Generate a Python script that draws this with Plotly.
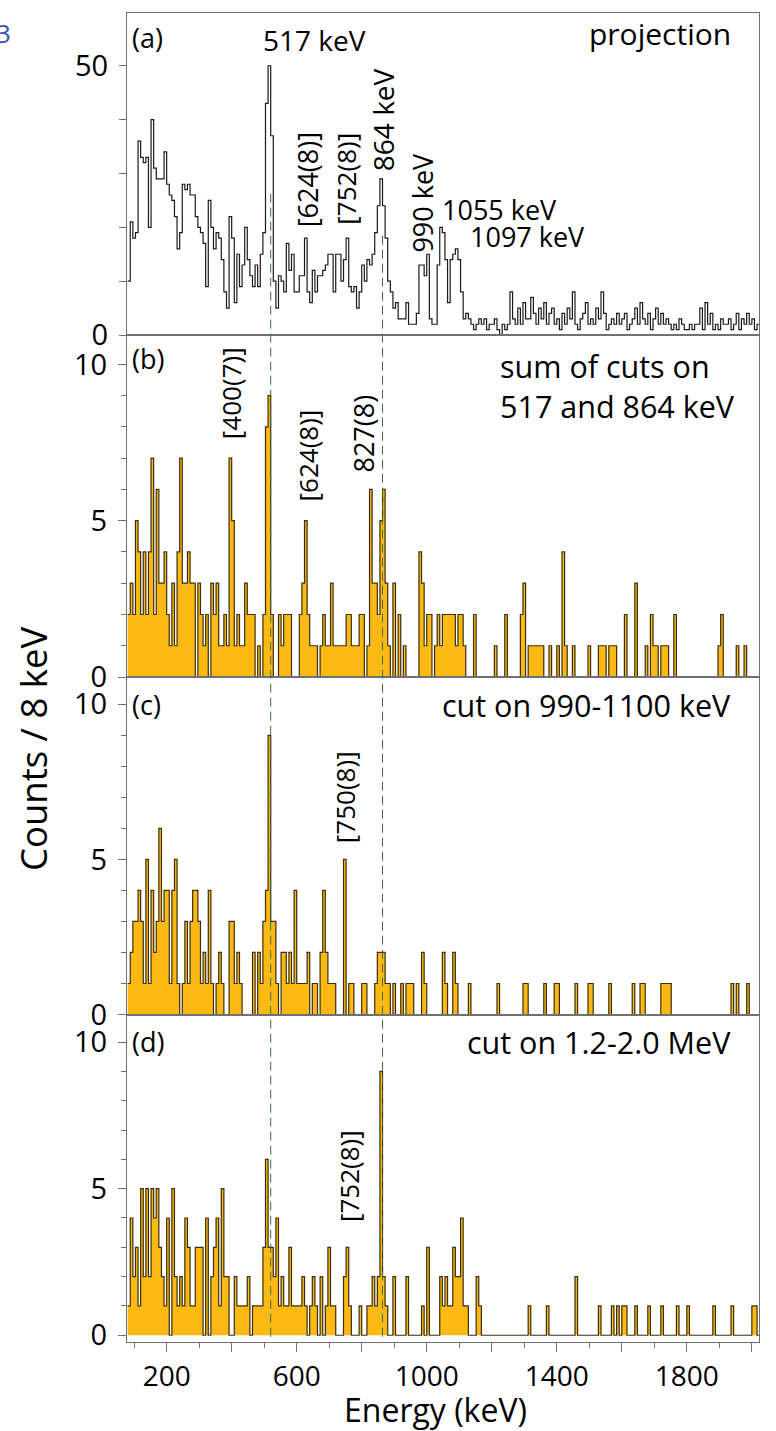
import plotly.graph_objects as go

# ---------------- data ----------------
bin_start = 80      # keV, lower edge of first bin
bin_width = 8       # keV per bin

proj_counts = [
    10,21,18,19,36,33,32,33,20,40, 31,29,29,29,34,28,26,25,22,16,
    19,28,27,28,26,26,22,20,19,17, 9,25,20,16,19,18,14,8,5,22,
    18,6,15,9,13,20,14,11,9,13, 9,15,19,43,50,37,10,5,11,10,
    8,17,12,15,8,8,11,11,18,8, 6,12,8,11,11,12,13,15,15,8,
    15,15,10,14,18,9,8,9,5,8, 13,10,14,13,15,19,24,29,24,18,
    10,8,5,6,3,3,3,6,2,2, 2,4,13,13,11,15,3,2,2,13,
    20,19,14,6,14,15,16,14,8,3, 4,3,2,1,2,3,2,3,1,2,
    2,3,1,0,2,1,2,8,3,2, 5,2,6,3,3,7,4,2,5,3,
    6,2,4,5,2,3,1,4,2,5, 3,8,2,1,3,4,6,2,3,2,
    5,3,8,4,1,2,3,2,4,2, 3,4,1,2,3,5,2,6,3,2,
    4,1,3,5,2,4,2,3,2,1, 2,1,3,2,1,1,2,1,2,2,
    5,1,6,2,4,1,2,1,3,2, 2,3,1,2,4,1,3,2,4,2,
    3,1,2,
]

sum_cuts_counts = [
    2,3,2,5,4,2,4,2,4,7, 2,6,3,3,4,2,1,3,1,4,
    7,3,3,4,3,3,0,3,2,1, 2,0,3,2,3,1,1,2,1,7,
    5,1,2,1,1,3,2,2,2,0, 1,0,2,8,9,2,0,0,2,1,
    2,2,2,0,0,0,2,3,5,2, 1,1,1,0,1,2,1,1,3,1,
    1,1,1,1,2,2,1,1,1,2, 2,0,1,6,3,3,2,5,6,3,
    1,0,3,0,2,0,1,0,0,0, 0,0,4,3,1,2,2,0,1,2,
    1,2,2,2,2,2,1,2,2,1, 0,0,0,2,0,0,0,0,0,0,
    0,1,0,0,0,2,0,0,0,0, 0,2,3,0,1,1,1,1,1,1,
    0,0,1,0,0,1,0,4,1,0, 0,1,0,0,0,0,0,1,0,0,
    0,1,1,1,0,1,1,1,0,0, 0,2,0,0,0,3,0,0,0,1,
    0,2,1,1,0,1,1,1,0,0, 2,0,0,0,0,0,0,0,0,0,
    0,0,0,0,0,0,0,1,2,0, 0,0,0,0,1,0,0,1,0,0,
    0,0,0,
]

cut_990_1100_counts = [
    1,2,3,3,4,3,1,5,1,4, 2,3,6,3,4,4,1,4,5,1,
    0,1,3,1,3,4,4,3,1,2, 1,4,1,0,1,2,1,0,0,3,
    3,1,2,1,0,0,0,0,2,0, 2,1,3,4,9,3,3,1,0,2,
    2,1,2,1,4,1,1,1,1,2, 0,1,1,0,2,4,2,1,1,1,
    0,0,0,5,0,1,1,0,0,0, 1,1,0,0,0,1,2,2,2,1,
    1,0,1,0,0,1,0,1,1,1, 0,0,0,2,1,0,0,0,0,0,
    0,2,1,0,0,2,1,0,0,0, 0,1,0,0,0,0,0,0,0,0,
    0,0,1,0,0,0,0,0,0,0, 0,0,1,1,0,0,0,0,0,0,
    1,0,0,0,1,1,0,0,0,0, 0,0,1,0,0,0,0,1,1,0,
    0,0,0,0,0,1,0,0,0,0, 0,0,0,0,1,0,0,1,1,0,
    0,0,0,0,0,1,1,1,1,0, 0,0,0,0,0,0,0,0,0,0,
    0,0,0,0,0,0,0,0,0,0, 0,0,1,0,1,0,0,0,1,0,
    0,0,0,
]

cut_12_20_counts = [
    1,4,2,3,1,5,2,5,2,5, 4,5,3,2,1,4,0,5,2,1,
    2,1,4,3,1,1,3,3,3,0, 4,0,2,3,4,1,5,2,2,0,
    0,2,1,1,1,1,2,0,1,1, 1,1,3,6,3,3,2,4,1,2,
    1,1,3,1,1,1,1,2,1,0, 1,2,1,0,2,0,1,3,1,1,
    0,0,0,2,3,1,0,0,0,1, 0,0,1,1,2,1,2,9,2,1,
    0,0,2,0,0,0,0,2,0,0, 0,0,0,1,0,3,0,0,0,0,
    2,1,2,1,1,3,2,2,4,1, 1,0,0,0,2,1,0,0,0,0,
    0,0,0,0,0,0,0,0,0,0, 0,0,0,0,1,0,0,0,0,0,
    0,1,0,0,0,0,0,0,0,0, 0,0,2,0,0,0,0,0,0,0,
    0,1,0,0,0,0,1,0,1,0, 1,1,0,0,0,1,0,0,0,0,
    1,0,0,0,0,1,0,0,0,0, 0,1,0,0,0,1,0,0,0,0,
    0,0,0,0,0,1,0,0,0,0, 0,0,1,0,0,0,0,0,0,0,
    1,1,0,
]

cut_lines_keV = [520, 864]

x_tick_vals = [200, 400, 600, 800, 1000, 1200, 1400, 1600, 1800, 2000]
x_tick_text = ["200", "", "600", "", "1000", "", "1400", "", "1800", ""]

# ---------------- figure ----------------
W, H = 776, 1431
ML, MR, MT, MB = 127, 17, 13, 89
PH = H - MT - MB  # plot height in px


def py(px):
    """pixel row (from top of page) -> paper y"""
    return (H - MB - px) / PH


def pxx(px):
    return (px - ML) / (W - ML - MR)


FONT = "Open Sans"
AX_COL = "#707070"
FILL = "#FDB913"
EDGE = "#3a2e0e"

fig = go.Figure()


def step_xy(counts):
    xs = [bin_start + bin_width * i for i in range(len(counts))]
    xs.append(bin_start + bin_width * len(counts))
    ys = list(counts) + [counts[-1]]
    return xs, ys


panels = [
    (proj_counts, "x", "y", False),
    (sum_cuts_counts, "x2", "y2", True),
    (cut_990_1100_counts, "x3", "y3", True),
    (cut_12_20_counts, "x4", "y4", True),
]
for counts, xa, ya, filled in panels:
    xs, ys = step_xy(counts)
    fig.add_trace(go.Scatter(
        x=xs, y=ys, mode="lines", xaxis=xa, yaxis=ya,
        line=dict(shape="hv", color=EDGE if filled else "#1a1a1a", width=1.2),
        fill="tozeroy" if filled else None,
        fillcolor=FILL if filled else None,
        hoverinfo="skip", showlegend=False,
    ))

domains = [
    (py(335), 1.0),
    (py(677), py(335)),
    (py(1014.5), py(677)),
    (0.0, py(1014.5)),
]
yranges = [[0, 59.8], [0, 10.94], [0, 10.88], [-0.23, 10.94]]
xrange = [78, 2022]

common_axis = dict(showline=True, linecolor=AX_COL, linewidth=1, mirror=True,
                   showgrid=False, zeroline=False, ticks="outside", automargin=False,
                   tickcolor=AX_COL, tickfont=dict(family=FONT, size=29, color="black"))

layout = dict(
    width=W, height=H,
    margin=dict(l=ML, r=MR, t=MT, b=MB),
    paper_bgcolor="white", plot_bgcolor="white",
    font=dict(family=FONT, color="black"),
    showlegend=False,
)

for i in range(4):
    xname = "xaxis" if i == 0 else f"xaxis{i+1}"
    yname = "yaxis" if i == 0 else f"yaxis{i+1}"
    ax_y = "y" if i == 0 else f"y{i+1}"
    ax_x = "x" if i == 0 else f"x{i+1}"
    xa = dict(common_axis, domain=[0, 1], range=xrange, anchor=ax_y)
    if i == 3:
        xa.update(tickvals=x_tick_vals, ticktext=x_tick_text, ticklen=9,
                  tickfont=dict(family=FONT, size=28, color="black"),
                  minor=dict(tickvals=[v - 100 for v in x_tick_vals], ticklen=5,
                             tickcolor=AX_COL, ticks="outside"))
    else:
        xa.update(ticks="", showticklabels=False, matches="x4")
    ya = dict(common_axis, domain=list(domains[i]), range=yranges[i], anchor=ax_x,
              ticklabelstandoff=5)
    if i == 0:
        ya.update(tickvals=[0, 10, 20, 30, 40, 50],
                  ticktext=["0", "", "", "", "", "50"], ticklen=7)
    else:
        ya.update(tickvals=[0, 5, 10], ticklen=8,
                  minor=dict(dtick=1, ticklen=5, tickcolor=AX_COL, ticks="outside"))
    layout[xname] = xa
    layout[yname] = ya

fig.update_layout(**layout)

# dashed guide lines
line_tops = [py(190), py(232)]
for e, top in zip(cut_lines_keV, line_tops):
    fig.add_shape(type="line", xref="x4", yref="paper", x0=e, x1=e, y0=0.004, y1=top,
                  line=dict(color="#3f6f3a", width=1, dash="9px,5px"), layer="above")


def ann(text, x, y, xr, yr, size, xanchor="center", yanchor="middle", angle=0, align="center"):
    fig.add_annotation(text=text, x=x, y=y, xref=xr, yref=yr, xanchor=xanchor,
                       yanchor=yanchor, textangle=angle, showarrow=False, align=align,
                       font=dict(family=FONT, size=size, color="black"))


# panel (a)
ann("(a)", 88, 55.3, "x", "y", 27, xanchor="left")
ann("517 keV", 654, 54.8, "x", "y", 28)
ann("projection", 1941, 56, "x", "y", 30, xanchor="right")
ann("[624(8)]", 636, 28.8, "x", "y", 27, angle=-90)
ann("[752(8)]", 751, 29, "x", "y", 26, angle=-90)
ann("864 keV", 864, 40, "x", "y", 28, angle=-90)
ann("990 keV", 987, 24.5, "x", "y", 27, angle=-90)
ann("1055 keV", 1041, 23.4, "x", "y", 27, xanchor="left")
ann("1097 keV", 1128, 18.3, "x", "y", 27, xanchor="left")

# panel (b)
ann("(b)", 88, 10.2, "x2", "y2", 27, xanchor="left")
ann("[400(7)]", 400, 9.07, "x2", "y2", 26, angle=-90)
ann("[624(8)]", 636, 7.1, "x2", "y2", 26, angle=-90)
ann("827(8)", 805, 7.8, "x2", "y2", 27, angle=-90)
ann("sum of cuts on<br>517 and 864 keV", 1220, 9.3, "x2", "y2", 30.5,
    xanchor="left", align="left")

# panel (c)
ann("(c)", 88, 9.98, "x3", "y3", 27, xanchor="left")
ann("[750(8)]", 751, 7.0, "x3", "y3", 26, angle=-90)
ann("cut on 990-1100 keV", 1941, 9.98, "x3", "y3", 30.5, xanchor="right")

# panel (d)
ann("(d)", 88, 10.03, "x4", "y4", 27, xanchor="left")
ann("[752(8)]", 761, 5.43, "x4", "y4", 26, angle=-90)
ann("cut on 1.2-2.0 MeV", 1941, 10.0, "x4", "y4", 30.5, xanchor="right")

# axis titles
ann("Counts / 8 keV", pxx(33), py(749), "paper", "paper", 36.5, angle=-90)
ann("Energy (keV)", pxx(435), py(1409), "paper", "paper", 32)

# stray figure-letter fragment at the page edge
ann("3", pxx(3), py(33), "paper", "paper", 26)
fig.layout.annotations[-1].font.color = "#3b55a6"

fig.write_html("out.html", config={"displayModeBar": False},
               post_script="document.body.style.margin='0px';")
